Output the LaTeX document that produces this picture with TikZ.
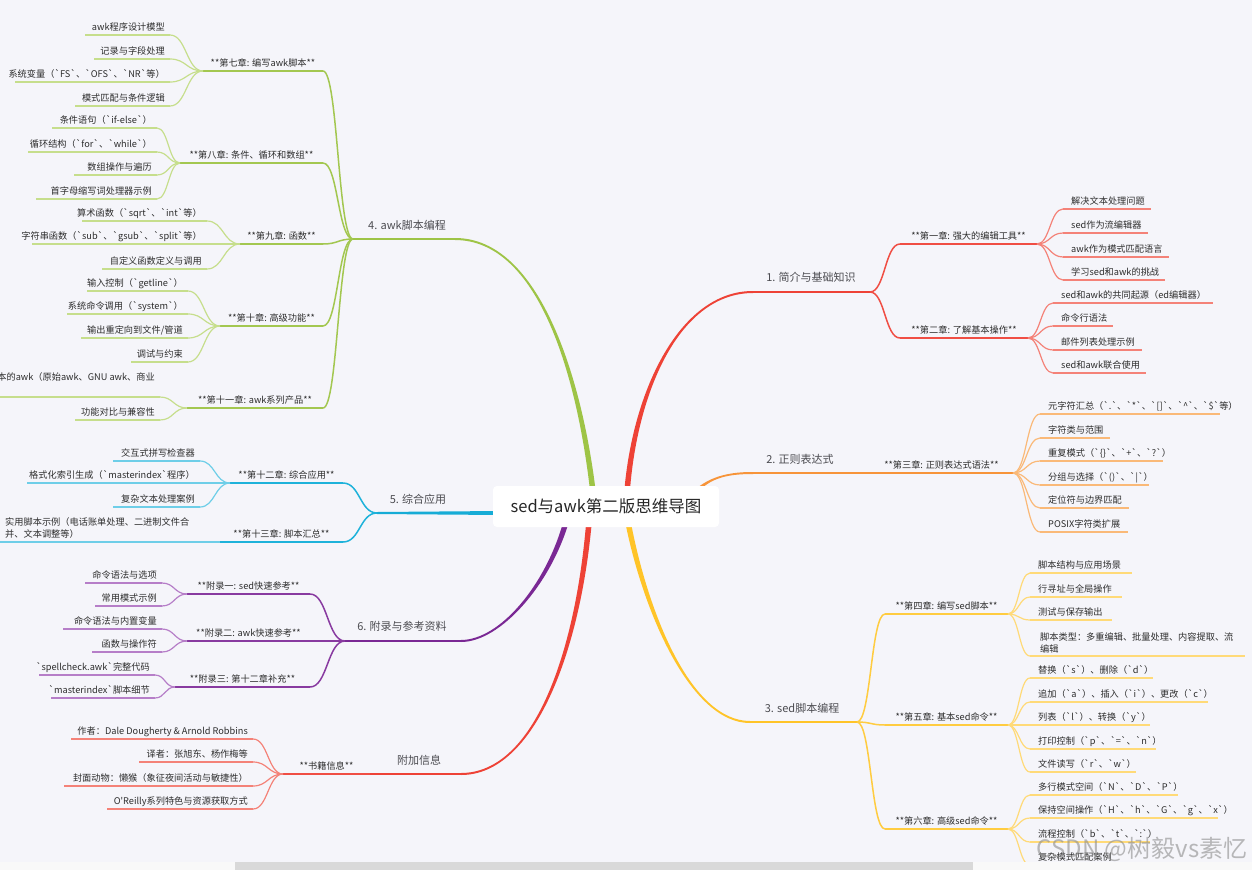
\documentclass[tikz,border=0pt]{standalone}
\usepackage{fontspec}
\setmainfont{Noto Sans CJK SC}[Ligatures=TeXOff]
\usetikzlibrary{calc}
\definecolor{bgc}{RGB}{245,245,250}
\definecolor{txt}{RGB}{45,45,45}
\definecolor{txt2}{RGB}{75,75,80}
\definecolor{RedM}{RGB}{238,66,54}
\definecolor{RedC}{RGB}{240,78,68}
\definecolor{RedL}{RGB}{244,130,120}
\definecolor{OrgM}{RGB}{247,148,57}
\definecolor{OrgL}{RGB}{250,185,120}
\definecolor{YelM}{RGB}{255,196,40}
\definecolor{YelC}{RGB}{255,204,64}
\definecolor{YelL}{RGB}{255,218,120}
\definecolor{GrnM}{RGB}{158,196,70}
\definecolor{GrnC}{RGB}{163,199,80}
\definecolor{GrnL}{RGB}{198,222,140}
\definecolor{CyaM}{RGB}{22,172,214}
\definecolor{CyaC}{RGB}{30,178,218}
\definecolor{CyaL}{RGB}{110,206,232}
\definecolor{PurM}{RGB}{122,40,148}
\definecolor{PurC}{RGB}{136,58,160}
\definecolor{PurL}{RGB}{182,126,200}
\definecolor{sbar}{RGB}{217,217,217}
\definecolor{stripc}{RGB}{249,249,249}
\pgfdeclarelayer{bgl}
\pgfdeclarelayer{lines}
\pgfsetlayers{bgl,lines,main}
\newcommand\MMlink[3]{\draw[#3] (#1) .. controls ($(#1)!0.5!(#2|-#1)$) and ($(#2)!0.5!(#1|-#2)$) .. (#2);}
\newcommand\MMchap[6]{%
  \coordinate (#2a) at (#3,#5);
  \coordinate (#2b) at (#4,#5);
  \begin{pgfonlayer}{lines}
  \MMlink{#1}{#2a}{mmchapline}
  \draw[mmchapline] (#2a) -- (#2b);
  \end{pgfonlayer}
  \node[mmlbl] (#2) at ($(#2a)!0.5!(#2b)+(0,-5)$) {#6};}
% right-side leaf: text starts after the curve end
\newcommand\MMleafR[6]{%
  \coordinate (#2a) at (#3,#5);
  \coordinate (#2b) at (#4,#5);
  \begin{pgfonlayer}{lines}
  \MMlink{#1}{#2a}{mmleafline}
  \draw[mmleafline] (#2a) -- (#2b);
  \end{pgfonlayer}
  \node[mmlbl,anchor=base west] (#2) at ($(#2a)+(8,-5)$) {#6};}
% left-side leaf: text ends before the curve end
\newcommand\MMleafL[6]{%
  \coordinate (#2a) at (#3,#5);
  \coordinate (#2b) at (#4,#5);
  \begin{pgfonlayer}{lines}
  \MMlink{#1}{#2a}{mmleafline}
  \draw[mmleafline] (#2a) -- (#2b);
  \end{pgfonlayer}
  \node[mmlbl,anchor=base east] (#2) at ($(#2a)+(-5,-5)$) {#6};}
\newcommand\MMtaper[7]{%
  \begin{pgfonlayer}{lines}
  \fill[#1] ($(#2)+(#6*2.8,0)$) .. controls ($(#3)+(#6*2.4,0)$) and ($(#4)+(0,#7*1.1)$) .. ($(#5)+(0,#7*1)$)
    -- ($(#5)-(0,#7*1)$) .. controls ($(#4)-(0,#7*1.1)$) and ($(#3)-(#6*2.4,0)$) .. ($(#2)-(#6*2.8,0)$) -- cycle;
  \end{pgfonlayer}}
\begin{document}
\begin{tikzpicture}[x=1pt,y=-1pt,line cap=round,
  mmlbl/.style={anchor=base,inner sep=0pt,text=txt,font=\fontsize{9.2}{11}\selectfont},
  mmtop/.style={inner sep=0pt,text=txt2,font=\fontsize{11}{13}\selectfont},
  mmmain/.style={line width=2pt},
  mmchapline/.style={draw=black,line width=1.5pt},
  mmleafline/.style={draw=gray,line width=1.2pt}]
\useasboundingbox (0,0) rectangle (1252,870);
\begin{pgfonlayer}{bgl}
\fill[bgc] (0,0) rectangle (1252,870);
\end{pgfonlayer}

% ---------- root ----------
\node[fill=white,rounded corners=4pt,minimum width=226pt,minimum height=41pt,inner sep=0pt,
  text=black!85,font=\fontsize{16.5}{18}\selectfont] (root) at (606,506.5) {sed与awk第二版思维导图};

% ---------- main curves ----------
\coordinate (s1) at (627,492); \coordinate (k1a) at (635,390); \coordinate (k1b) at (680,292); \coordinate (r1e) at (753,292);
\coordinate (s2) at (688,500); \coordinate (k2a) at (705,478); \coordinate (k2b) at (725,473); \coordinate (r2e) at (753,473);
\coordinate (s3) at (628,522); \coordinate (k3a) at (645,610); \coordinate (k3b) at (690,722); \coordinate (r3e) at (750,722);
\coordinate (s4) at (593,492); \coordinate (k4a) at (580,380); \coordinate (k4b) at (540,239); \coordinate (r4e) at (455,239);
\coordinate (s6) at (566,522); \coordinate (k6a) at (548,585); \coordinate (k6b) at (500,641); \coordinate (r6e) at (461,641);
\coordinate (s7) at (589,522); \coordinate (k7a) at (578,650); \coordinate (k7b) at (535,774); \coordinate (r7e) at (461,774);
\coordinate (s5) at (500,513);
\coordinate (hub1) at (870,292);
\coordinate (hub2) at (870,473);
\coordinate (hub3) at (857,722);
\coordinate (hub4) at (353,239);
\coordinate (hub5) at (377,513);
\coordinate (hub6) at (345,641);
\coordinate (hub7) at (370,774);

\MMtaper{RedM}{s1}{k1a}{k1b}{r1e}{-1}{-1}
\MMtaper{OrgM}{s2}{k2a}{k2b}{r2e}{-1}{-1}
\MMtaper{YelM}{s3}{k3a}{k3b}{r3e}{-1}{1}
\MMtaper{GrnM}{s4}{k4a}{k4b}{r4e}{1}{-1}
\MMtaper{PurM}{s6}{k6a}{k6b}{r6e}{1}{1}
\MMtaper{RedM}{s7}{k7a}{k7b}{r7e}{1}{1}
\begin{pgfonlayer}{lines}
\fill[CyaM] ($(s5)+(0,-2)$) -- ($(hub5)+(0,-1)$) -- ($(hub5)+(0,1)$) -- ($(s5)+(0,2)$) -- cycle;
\draw[mmmain,RedM] (r1e) -- (hub1);
\draw[mmmain,OrgM] (r2e) -- (hub2);
\draw[mmmain,YelM] (r3e) -- (hub3);
\draw[mmmain,GrnM] (r4e) -- (hub4);
\draw[mmmain,PurM] (r6e) -- (hub6);
\draw[mmmain,RedM] (r7e) -- (hub7);
\end{pgfonlayer}

\node[mmtop] (t1) at (811,277) {1. 简介与基础知识};
\node[mmtop] (t2) at (800,459) {2. 正则表达式};
\node[mmtop] (t3) at (802,708) {3. sed脚本编程};
\node[mmtop] (t4) at (407,225) {4. awk脚本编程};
\node[mmtop] (t5) at (418,499) {5. 综合应用};
\node[mmtop] (t6) at (402,626) {6. 附录与参考资料};
\node[mmtop] (t7) at (419,760) {附加信息};

% ---------- 1 red ----------
\begin{scope}[mmchapline/.style={draw=RedC,line width=1.5pt},mmleafline/.style={draw=RedL,line width=1.2pt}]
\MMchap{hub1}{ca}{900}{1037}{244}{**第一章: 强大的编辑工具**}
\MMleafR{cab}{la1}{1063}{1151}{209}{解决文本处理问题}
\MMleafR{cab}{la2}{1063}{1148}{233}{sed作为流编辑器}
\MMleafR{cab}{la3}{1063}{1169}{257}{awk作为模式匹配语言}
\MMleafR{cab}{la4}{1063}{1165}{280}{学习sed和awk的挑战}
\MMchap{hub1}{cb}{900}{1028}{338}{**第二章: 了解基本操作**}
\MMleafR{cbb}{lb1}{1053}{1213}{303}{sed和awk的共同起源（ed编辑器）}
\MMleafR{cbb}{lb2}{1053}{1113}{326}{命令行语法}
\MMleafR{cbb}{lb3}{1053}{1142}{350}{邮件列表处理示例}
\MMleafR{cbb}{lb4}{1053}{1146}{373}{sed和awk联合使用}
\end{scope}

% ---------- 2 orange ----------
\begin{scope}[mmchapline/.style={draw=OrgM,line width=1.5pt},mmleafline/.style={draw=OrgL,line width=1.2pt}]
\MMchap{hub2}{cc}{870}{1013}{473}{**第三章: 正则表达式语法**}
\MMleafR{ccb}{lc1}{1040}{1220}{414}{元字符汇总（`.`、`*`、`[]`、`\textasciicircum`、`\$`等）}
\MMleafR{ccb}{lc2}{1040}{1110}{438}{字符类与范围}
\MMleafR{ccb}{lc3}{1040}{1163}{461}{重复模式（`\{\}`、`+`、`?`）}
\MMleafR{ccb}{lc4}{1040}{1149}{485}{分组与选择（`()`、`|`）}
\MMleafR{ccb}{lc5}{1040}{1129}{508}{定位符与边界匹配}
\MMleafR{ccb}{lc6}{1040}{1128}{532}{POSIX字符类扩展}
\end{scope}

% ---------- 3 yellow ----------
\begin{scope}[mmchapline/.style={draw=YelC,line width=1.5pt},mmleafline/.style={draw=YelL,line width=1.2pt}]
\MMchap{hub3}{cd}{885}{1008}{614}{**第四章: 编写sed脚本**}
\MMleafR{cdb}{ld1}{1030}{1132}{573}{脚本结构与应用场景}
\MMleafR{cdb}{ld2}{1030}{1122}{597}{行寻址与全局操作}
\MMleafR{cdb}{ld3}{1030}{1112}{620}{测试与保存输出}
\coordinate (ld4a) at (1030,656); \coordinate (ld4b) at (1245,656);
\begin{pgfonlayer}{lines}
\MMlink{cdb}{ld4a}{mmleafline}
\draw[mmleafline] (ld4a) -- (ld4b);
\end{pgfonlayer}
\node[mmlbl,anchor=south west,align=left,font=\fontsize{9.2}{12}\selectfont] (ld4) at (1040,653) {脚本类型：多重编辑、批量处理、内容提取、流\\编辑};
\MMchap{hub3}{ce}{885}{1008}{725}{**第五章: 基本sed命令**}
\MMleafR{ceb}{le1}{1030}{1153}{678}{替换（`s`）、删除（`d`）}
\MMleafR{ceb}{le2}{1030}{1208}{702}{追加（`a`）、插入（`i`）、更改（`c`）}
\MMleafR{ceb}{le3}{1030}{1150}{725}{列表（`l`）、转换（`y`）}
\MMleafR{ceb}{le4}{1030}{1156}{749}{打印控制（`p`、`=`、`n`）}
\MMleafR{ceb}{le5}{1030}{1136}{772}{文件读写（`r`、`w`）}
\MMchap{hub3}{cf}{885}{1008}{829}{**第六章: 高级sed命令**}
\MMleafR{cfb}{lf1}{1030}{1178}{795}{多行模式空间（`N`、`D`、`P`）}
\MMleafR{cfb}{lf2}{1030}{1218}{818}{保持空间操作（`H`、`h`、`G`、`g`、`x`）}
\MMleafR{cfb}{lf3}{1030}{1150}{842}{流程控制（`b`、`t`、`:`）}
\MMleafR{cfb}{lf4}{1030}{1120}{865}{复杂模式匹配案例}
\end{scope}

% ---------- 4 green ----------
\begin{scope}[mmchapline/.style={draw=GrnC,line width=1.5pt},mmleafline/.style={draw=GrnL,line width=1.2pt}]
\MMchap{hub4}{cg}{323}{203}{71}{**第七章: 编写awk脚本**}
\MMleafL{cgb}{lg1}{170}{85}{35}{awk程序设计模型}
\MMleafL{cgb}{lg2}{170}{94}{59}{记录与字段处理}
\MMleafL{cgb}{lg3}{170}{15}{82}{系统变量（`FS`、`OFS`、`NR`等）}
\MMleafL{cgb}{lg4}{170}{75}{106}{模式匹配与条件逻辑}
\MMchap{hub4}{ch}{323}{180}{163}{**第八章: 条件、循环和数组**}
\MMleafL{chb}{lh1}{157}{52}{128}{条件语句（`if-else`）}
\MMleafL{chb}{lh2}{157}{28}{152}{循环结构（`for`、`while`）}
\MMleafL{chb}{lh3}{157}{74}{175}{数组操作与遍历}
\MMleafL{chb}{lh4}{157}{36}{199}{首字母缩写词处理器示例}
\MMchap{hub4}{ci}{323}{240}{244}{**第九章: 函数**}
\MMleafL{cib}{li1}{207}{82}{221}{算术函数（`sqrt`、`int`等）}
\MMleafL{cib}{li2}{207}{32}{244}{字符串函数（`sub`、`gsub`、`split`等）}
\MMleafL{cib}{li3}{207}{102}{269}{自定义函数定义与调用}
\MMchap{hub4}{cj}{323}{220}{326}{**第十章: 高级功能**}
\MMleafL{cjb}{lj1}{188}{87}{291}{输入控制（`getline`）}
\MMleafL{cjb}{lj2}{188}{67}{314}{系统命令调用（`system`）}
\MMleafL{cjb}{lj3}{188}{81}{338}{输出重定向到文件/管道}
\MMleafL{cjb}{lj4}{188}{131}{362}{调试与约束}
\MMchap{hub4}{ck}{323}{187}{408}{**第十一章: awk系列产品**}
\coordinate (lk1a) at (160,397); \coordinate (lk1b) at (-5,397);
\begin{pgfonlayer}{lines}
\MMlink{ckb}{lk1a}{mmleafline}
\draw[mmleafline] (lk1a) -- (lk1b);
\end{pgfonlayer}
\node[mmlbl,anchor=base east] (lk1) at (155,380) {不同版本的awk（原始awk、GNU awk、商业};
\MMleafL{ckb}{lk2}{160}{75}{420}{功能对比与兼容性}
\end{scope}

% ---------- 5 cyan ----------
\begin{scope}[mmchapline/.style={draw=CyaC,line width=1.5pt},mmleafline/.style={draw=CyaL,line width=1.2pt}]
\MMchap{hub5}{cl}{343}{230}{483}{**第十二章: 综合应用**}
\MMleafL{clb}{ll1}{200}{113}{461}{交互式拼写检查器}
\MMleafL{clb}{ll2}{200}{27}{483}{格式化索引生成（`masterindex`程序）}
\MMleafL{clb}{ll3}{200}{113}{507}{复杂文本处理案例}
\MMchap{hub5}{cm}{343}{220}{542}{**第十三章: 脚本汇总**}
\coordinate (lm1b) at (-5,542);
\begin{pgfonlayer}{lines}
\draw[mmleafline] (cmb) -- (lm1b);
\end{pgfonlayer}
\node[mmlbl,anchor=south west,align=left,font=\fontsize{9.2}{12}\selectfont] (lm1) at (5,539) {实用脚本示例（电话账单处理、二进制文件合\\并、文本调整等）};
\end{scope}

% ---------- 6 purple ----------
\begin{scope}[mmchapline/.style={draw=PurC,line width=1.5pt},mmleafline/.style={draw=PurL,line width=1.2pt}]
\MMchap{hub6}{cn}{310}{187}{594}{**附录一: sed快速参考**}
\MMleafL{cnb}{ln1}{162}{85}{583}{命令语法与选项}
\MMleafL{cnb}{ln2}{162}{95}{606}{常用模式示例}
\MMchap{hub6}{co}{310}{187}{641}{**附录二: awk快速参考**}
\MMleafL{cob}{lo1}{162}{63}{629}{命令语法与内置变量}
\MMleafL{cob}{lo2}{162}{92}{652}{函数与操作符}
\MMchap{hub6}{cp}{310}{175}{687}{**附录三: 第十二章补充**}
\MMleafL{cpb}{lp1}{155}{39}{675}{`spellcheck.awk`完整代码}
\MMleafL{cpb}{lp2}{155}{51}{698}{`masterindex`脚本细节}
\end{scope}

% ---------- 7 red ----------
\begin{scope}[mmchapline/.style={draw=RedC,line width=1.5pt},mmleafline/.style={draw=RedL,line width=1.2pt}]
\MMchap{hub7}{cq}{370}{283}{774}{**书籍信息**}
\MMleafL{cqb}{lq1}{253}{71}{739}{作者：Dale Dougherty \& Arnold Robbins}
\MMleafL{cqb}{lq2}{253}{139}{762}{译者：张旭东、杨作梅等}
\MMleafL{cqb}{lq3}{253}{64}{786}{封面动物：懒猴（象征夜间活动与敏捷性）}
\MMleafL{cqb}{lq4}{253}{107}{809}{O'Reilly系列特色与资源获取方式}
\end{scope}

% ---------- scrollbar and watermark ----------
\fill[stripc] (0,862) rectangle (1252,870);
\fill[sbar] (235,862) rectangle (973,870);
\node[text=black!45,opacity=0.6,inner sep=0pt,font=\fontsize{24}{26}\selectfont] (wm) at (1142,849) {CSDN @树毅vs素忆};
\end{tikzpicture}
\end{document}
